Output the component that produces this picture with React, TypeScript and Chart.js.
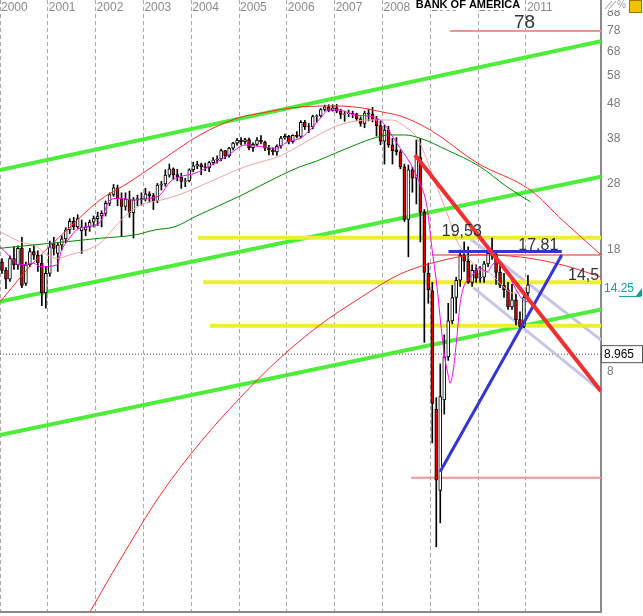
import React, { useEffect, useRef } from 'react';
import { Chart, registerables } from 'chart.js';

Chart.register(...registerables);

// ---------- axes ----------
const firstYear = 2000;
const xMin = 2000;
const xMax = 2012.57;
const yMin = 1.5964;
const yMax = 95.94;
const yearTicks = [2000, 2001, 2002, 2003, 2004, 2005, 2006, 2007, 2008, 2009, 2010, 2011];
const priceTicks = [8, 18, 28, 38, 48, 58, 68, 78, 88];

// ---------- monthly candles Jan 2000 .. Jan 2011 ----------
const opens = [
  16.6, 15.7, 14.8, 17.0, 16.3, 18.2, 14.4, 16.3, 17.8, 17.4, 16.5, 13.5,
  15.4, 18.8, 17.6, 18.6, 19.4, 20.6, 21.8, 21.0, 20.5, 20.6, 21.0, 21.7,
  22.2, 22.6, 23.0, 24.6, 26.1, 27.3, 25.4, 24.1, 25.3, 23.1, 25.2, 25.4,
  25.3, 26.2, 25.9, 25.0, 27.8, 28.0, 29.7, 31.0, 29.8, 29.3, 28.5, 28.6,
  30.8, 31.6, 31.9, 31.4, 31.2, 32.3, 32.9, 33.1, 35.0, 33.8, 35.6, 36.8,
  37.6, 37.2, 37.7, 35.7, 36.5, 37.6, 37.1, 35.6, 35.2, 34.7, 36.1, 38.1,
  38.5, 37.2, 38.8, 38.5, 42.3, 41.1, 41.0, 44.0, 44.2, 46.1, 46.9, 45.8,
  46.6, 45.6, 44.6, 44.8, 44.9, 44.8, 43.3, 42.0, 45.0, 44.7, 43.2, 41.4,
  37.3, 40.2, 36.4, 35.2, 34.7, 31.4, 22.1, 30.8, 29.1, 33.4, 23.2, 15.4,
  13.7, 6.2, 3.6, 6.6, 8.8, 11.2, 13.1, 14.7, 17.4, 16.7, 14.5, 15.7,
  14.9, 15.0, 16.4, 17.6, 17.5, 15.5, 14.2, 13.8, 12.3, 12.9, 11.3, 10.8,
  13.5,
];
const highs = [
  17.0, 16.0, 17.3, 18.4, 18.5, 19.6, 16.6, 18.2, 18.6, 17.9, 17.4, 16.1,
  19.1, 19.6, 18.9, 19.8, 20.9, 22.2, 22.4, 22.8, 22.0, 21.6, 22.0, 22.6,
  23.2, 23.4, 25.0, 26.4, 27.9, 27.8, 26.4, 26.4, 26.7, 25.6, 26.0, 26.4,
  27.2, 26.6, 26.3, 28.1, 28.5, 30.8, 32.0, 31.2, 30.9, 30.1, 29.1, 31.0,
  32.4, 32.6, 32.2, 32.2, 32.6, 33.4, 33.8, 35.4, 35.1, 35.8, 37.0, 38.0,
  38.2, 38.0, 38.1, 36.9, 38.2, 38.7, 37.3, 36.3, 35.7, 36.4, 38.5, 39.1,
  38.8, 38.9, 39.8, 42.8, 42.9, 42.0, 44.4, 44.5, 46.4, 47.5, 47.6, 47.6,
  47.7, 46.2, 45.6, 45.9, 45.6, 45.0, 43.9, 45.6, 46.2, 46.8, 44.0, 42.6,
  41.5, 41.2, 38.0, 38.2, 35.2, 32.0, 31.8, 31.3, 37.6, 38.0, 23.6, 16.5,
  14.5, 6.7, 8.4, 10.2, 12.6, 14.2, 15.0, 18.0, 19.0, 18.4, 16.3, 16.3,
  16.1, 16.7, 17.8, 19.5, 17.8, 16.3, 15.4, 14.5, 14.3, 13.4, 11.9, 13.4,
  15.2,
];
const lows = [
  15.4, 13.9, 14.6, 15.8, 15.8, 14.0, 14.2, 16.1, 16.9, 15.6, 12.4, 12.2,
  15.1, 17.4, 15.6, 18.0, 18.9, 20.1, 20.6, 20.8, 17.6, 19.8, 20.4, 21.0,
  21.2, 21.0, 22.6, 24.2, 25.8, 24.2, 19.7, 23.5, 22.4, 19.5, 24.2, 24.3,
  25.0, 24.8, 23.6, 24.7, 26.9, 27.6, 29.3, 28.9, 28.6, 27.2, 27.5, 28.4,
  30.4, 31.0, 29.8, 30.6, 30.4, 31.8, 32.2, 32.7, 33.2, 33.5, 35.2, 36.3,
  36.4, 36.6, 35.2, 34.8, 36.1, 36.6, 35.0, 34.0, 34.0, 33.9, 35.6, 37.8,
  36.6, 36.8, 38.1, 38.1, 40.3, 39.5, 40.5, 42.3, 43.8, 45.6, 45.4, 45.6,
  45.1, 43.4, 42.6, 43.9, 43.6, 42.8, 41.2, 40.8, 42.7, 42.4, 38.6, 36.4,
  32.0, 35.8, 32.0, 34.0, 31.0, 21.8, 17.2, 26.5, 24.5, 19.0, 9.7, 12.6,
  4.95, 2.47, 2.9, 6.0, 8.6, 11.0, 11.8, 14.1, 15.6, 14.4, 14.1, 14.5,
  14.5, 14.5, 16.1, 16.9, 14.3, 14.0, 13.1, 12.1, 12.1, 10.9, 10.7, 10.7,
  13.2,
];
const closes = [
  15.7, 14.8, 17.0, 16.3, 18.2, 14.2, 16.3, 17.8, 17.4, 16.5, 13.5, 15.4,
  18.4, 18.2, 18.6, 19.4, 20.6, 21.8, 21.0, 22.2, 21.0, 21.0, 21.7, 22.2,
  22.6, 23.0, 24.6, 26.1, 27.3, 25.4, 24.1, 25.3, 23.1, 25.2, 25.4, 25.3,
  26.2, 25.9, 25.0, 27.8, 28.0, 29.7, 31.0, 29.8, 29.3, 28.5, 28.6, 30.8,
  31.6, 31.9, 31.4, 31.2, 32.3, 32.9, 33.1, 35.0, 33.8, 35.6, 36.8, 37.6,
  37.2, 37.7, 35.7, 36.5, 37.6, 37.1, 35.6, 35.2, 34.7, 36.1, 38.1, 38.5,
  37.2, 38.8, 38.5, 42.3, 41.1, 41.0, 44.0, 44.2, 46.1, 46.9, 45.8, 46.6,
  45.6, 44.6, 44.8, 44.9, 44.8, 43.3, 42.0, 45.0, 44.7, 43.2, 41.4, 37.3,
  40.2, 36.4, 35.0, 34.7, 31.4, 22.1, 30.8, 29.1, 33.4, 23.2, 15.5, 13.8,
  6.45, 3.86, 6.75, 8.8, 11.2, 13.1, 14.7, 17.4, 16.7, 14.5, 15.7, 14.9,
  15.0, 16.4, 17.6, 17.5, 15.5, 14.2, 13.8, 12.3, 12.9, 11.3, 10.8, 13.1,
  14.25,
];

// ---------- indicator curves [year, price] ----------
const magentaMA: [number, number][] = [
  [2000.0, 18.41], [2000.21, 17.22], [2000.42, 16.29], [2000.7, 16.47], [2000.84, 16.1],
  [2001.19, 16.29], [2001.29, 18.01], [2001.4, 19.03], [2001.6, 20.59], [2001.81, 21.04],
  [2002.09, 21.64], [2002.3, 25.16], [2002.51, 25.45], [2002.78, 25.16], [2003.14, 25.45],
  [2003.35, 26.02], [2003.56, 28.44], [2003.77, 29.41], [2004.08, 30.09], [2004.43, 31.81],
  [2004.78, 34.01], [2005.13, 36.37], [2005.47, 35.96], [2005.75, 35.57], [2006.03, 37.18],
  [2006.28, 38.03], [2006.45, 39.75], [2006.73, 43.96], [2006.87, 45.97], [2007.08, 45.97],
  [2007.43, 44.44], [2007.78, 43.96], [2007.99, 42.49], [2008.19, 38.88], [2008.37, 35.57],
  [2008.54, 32.89], [2008.75, 28.77], [2008.93, 24.06], [2009.03, 18.41], [2009.14, 14.08],
  [2009.24, 10.31], [2009.31, 8.62], [2009.38, 7.71], [2009.41, 7.38], [2009.48, 8.06],
  [2009.55, 9.86], [2009.62, 12.46], [2009.69, 13.96], [2009.83, 14.93], [2010.04, 15.93],
  [2010.19, 15.54], [2010.31, 16.39], [2010.42, 16.61], [2010.52, 15.96], [2010.67, 14.93],
  [2010.82, 13.59], [2010.94, 12.88], [2011.05, 12.71],
];
const salmonMA: [number, number][] = [
  [2000.0, 20.35], [2000.42, 19.03], [2000.77, 18.41], [2000.98, 17.42], [2001.19, 17.03],
  [2001.46, 17.42], [2001.81, 18.01], [2002.09, 18.83], [2002.41, 21.04], [2002.68, 23.02],
  [2003.03, 24.61], [2003.38, 25.16], [2003.73, 26.02], [2004.08, 27.21], [2004.71, 29.74],
  [2005.13, 31.45], [2005.47, 32.51], [2005.82, 33.62], [2006.17, 35.57], [2006.59, 38.44],
  [2007.01, 41.11], [2007.36, 42.49], [2007.78, 42.98], [2008.19, 42.98], [2008.47, 41.11],
  [2008.75, 37.6], [2009.03, 30.09], [2009.35, 23.02], [2009.55, 19.25], [2009.83, 16.84],
  [2010.04, 15.75], [2010.25, 15.4], [2010.53, 14.08], [2010.74, 13.48], [2011.02, 14.08],
];
const greenMA: [number, number][] = [
  [2000.0, 18.21], [2001.05, 18.83], [2002.09, 19.47], [2002.82, 19.91], [2003.24, 20.59],
  [2003.66, 21.04], [2004.08, 22.5], [2005.02, 25.84], [2005.89, 29.74], [2006.28, 31.45],
  [2006.59, 32.51], [2007.01, 34.39], [2007.43, 36.37], [2007.85, 38.18], [2008.16, 38.88],
  [2008.47, 38.88], [2008.79, 38.03], [2009.35, 35.16], [2010.04, 31.45], [2010.6, 27.5],
  [2011.09, 24.87],
];
const upperArc: [number, number][] = [
  [2000.0, 12.71], [2000.69, 16.51], [2001.4, 20.59], [2002.09, 25.16], [2002.68, 28.19],
  [2003.39, 32.89], [2004.18, 38.88], [2004.98, 43.56], [2005.48, 45.05], [2006.28, 46.89],
  [2007.07, 47.2], [2007.57, 46.58], [2007.99, 45.35], [2008.37, 44.16], [2009.0, 40.2],
  [2009.98, 32.24], [2011.09, 26.9], [2011.76, 22.0], [2012.57, 17.42],
];
const lowerArc: [number, number][] = [
  [2001.88, 1.596], [2002.51, 2.26], [2003.35, 3.49], [2004.18, 4.95], [2005.02, 6.69],
  [2005.86, 8.74], [2006.69, 10.9], [2007.53, 13.06], [2008.37, 15.33], [2009.21, 16.73],
  [2009.98, 17.42], [2010.88, 17.18], [2011.76, 16.29], [2012.57, 15.03],
];

// ---------- drawn trend lines [year, price] ----------
const greenChannelTop: [number, number][] = [[2000, 30.75], [2012.57, 72.8]];
const greenChannelMid: [number, number][] = [[2000, 12.74], [2012.57, 29.4]];
const greenChannelLow: [number, number][] = [[2000, 5.22], [2012.57, 12.1]];
const redDownTrend: [number, number][] = [[2008.68, 34.0], [2012.57, 7.0]];
const lavenderUpper: [number, number][] = [[2009.83, 19.45], [2012.57, 9.86]];
const lavenderLower: [number, number][] = [[2009.9, 14.0], [2012.57, 7.01]];
const blueUpTrend: [number, number][] = [[2009.205, 4.08], [2011.75, 17.4]];
const blueLevel: [number, number][] = [[2009.38, 17.81], [2011.75, 17.81]];
const yellowLevels = [19.53, 14.5, 10.85];
const yellowStarts = [2004.14, 2004.25, 2004.39];
const pinkLevels = [78, 17.4, 3.92];
const pinkStarts = [2009.41, 2009.03, 2008.6];
const crosshairValue = 8.965;
const lastPrice = 14.25;

const levelLabelText = ['78', '19,53', '17,81', '14,5'];
const levelLabelYear = [2010.75, 2009.24, 2010.84, 2011.88];
const levelLabelValue = [78, 19.53, 17.81, 14.5];
const levelLabelSize = [19, 16, 16, 16];
const chartTitle = 'BANK OF AMERICA';

const FONT = '"Liberation Sans", Arial, Helvetica, sans-serif';

const overlayPlugin = {
  id: 'overlay',
  afterDraw(chart: any) {
    const { ctx, chartArea, scales } = chart;
    const xs = scales.x;
    const ys = scales.y;
    ctx.save();
    ctx.beginPath();
    ctx.rect(chartArea.left, chartArea.top, chartArea.right - chartArea.left, chartArea.bottom - chartArea.top);
    ctx.clip();
    // year labels
    ctx.font = '12px ' + FONT;
    ctx.fillStyle = '#8c8c8c';
    ctx.textAlign = 'left';
    ctx.textBaseline = 'alphabetic';
    yearTicks.forEach((yr) => ctx.fillText(String(yr), xs.getPixelForValue(yr) + 1, 11));
    // title
    ctx.fillStyle = '#ffffff';
    ctx.fillRect(416, 0, 104, 10);
    ctx.font = 'bold 11px ' + FONT;
    ctx.fillStyle = '#000000';
    ctx.textAlign = 'center';
    ctx.fillText(chartTitle, 468, 8);
    // level labels
    ctx.textAlign = 'left';
    ctx.fillStyle = '#333333';
    levelLabelText.forEach((t, i) => {
      ctx.font = levelLabelSize[i] + 'px ' + FONT;
      const px = xs.getPixelForValue(levelLabelYear[i]);
      const py = ys.getPixelForValue(levelLabelValue[i]) - (i === 0 ? 3 : 2);
      ctx.fillText(t, px, py);
    });
    ctx.restore();

    // axis extras
    ctx.save();
    const right = chartArea.right;
    const lp = ys.getPixelForValue(lastPrice) + 4;
    ctx.font = '12px ' + FONT;
    ctx.fillStyle = '#0aa0a0';
    ctx.textAlign = 'left';
    ctx.textBaseline = 'middle';
    ctx.fillText(String(lastPrice), right + 3, lp);
    ctx.strokeStyle = '#0aa0a0';
    ctx.lineWidth = 1;
    ctx.beginPath();
    ctx.moveTo(right + 18, lp + 7.5);
    ctx.lineTo(right + 40, lp + 7.5);
    ctx.stroke();
    ctx.beginPath();
    ctx.moveTo(right + 35, lp + 7);
    ctx.lineTo(right + 41, lp + 7);
    ctx.lineTo(right + 41, lp - 1);
    ctx.closePath();
    ctx.fill();

    const cp = ys.getPixelForValue(crosshairValue);
    ctx.fillStyle = '#ffffff';
    ctx.fillRect(right, cp - 9, 42, 18);
    ctx.strokeStyle = '#555555';
    ctx.strokeRect(right + 0.5, cp - 8.5, 41, 17);
    ctx.fillStyle = '#000000';
    ctx.fillText(String(crosshairValue), right + 3, cp + 1);

    // top-right tool icons
    ctx.fillStyle = '#ffffff';
    ctx.fillRect(right + 2, 0, 40, 10);
    ctx.strokeStyle = '#9a9a9a';
    ctx.beginPath();
    ctx.moveTo(right + 4, 9); ctx.lineTo(right + 11, 1);
    ctx.moveTo(right + 8, 9); ctx.lineTo(right + 15, 1);
    ctx.stroke();
    ctx.font = '10px ' + FONT;
    ctx.fillStyle = '#9a9a9a';
    ctx.fillText('%', right + 16, 5);
    ctx.fillStyle = '#f2c200';
    ctx.fillRect(right + 28, 0, 13, 13);
    ctx.strokeStyle = '#a07800';
    ctx.strokeRect(right + 28.5, 0.5, 12, 12);
    ctx.restore();
  },
};

export default function App() {
  const ref = useRef<HTMLCanvasElement>(null);
  useEffect(() => {
    document.body.style.margin = '0';
    const canvas = ref.current;
    if (!canvas) return;
    const toXY = (pts: [number, number][]) => pts.map(([x, y]) => ({ x, y }));
    const monthX = closes.map((_, i) => firstYear + (i + 0.5) / 12);
    const bodyColors = closes.map((c, i) => (c < opens[i] ? '#e00000' : '#ffffff'));
    const line = (pts: [number, number][], color: string, width: number, order: number, extra: any = {}) => ({
      type: 'line',
      data: toXY(pts),
      borderColor: color,
      backgroundColor: color,
      borderWidth: width,
      pointRadius: 0,
      fill: false,
      order,
      ...extra,
    });
    const smooth = { cubicInterpolationMode: 'monotone' };
    const datasets: any[] = [];
    yellowLevels.forEach((v, i) =>
      datasets.push(line([[yellowStarts[i], v], [xMax, v]], '#eeee30', 4, 20)));
    datasets.push(line(greenChannelTop, '#4cee3a', 4, 20));
    datasets.push(line(greenChannelMid, '#4cee3a', 4, 20));
    datasets.push(line(greenChannelLow, '#4cee3a', 4, 20));
    pinkLevels.forEach((v, i) =>
      datasets.push(line([[pinkStarts[i], v], [xMax, v]], '#f39494', 2, 20)));
    datasets.push(line(lavenderUpper, '#c6c6e6', 3, 20));
    datasets.push(line(lavenderLower, '#c6c6e6', 3, 20));
    datasets.push(line([[xMin, crosshairValue], [xMax, crosshairValue]], '#444444', 1, 20, { borderDash: [1, 2] }));

    datasets.push({
      type: 'bar',
      data: monthX.map((x, i) => ({ x, y: [lows[i], highs[i]] })),
      backgroundColor: '#000000',
      grouped: false,
      maxBarThickness: 1,
      barPercentage: 1,
      categoryPercentage: 1,
      order: 11,
    });
    datasets.push({
      type: 'bar',
      data: monthX.map((x, i) => ({ x, y: [opens[i], closes[i]] })),
      backgroundColor: bodyColors,
      borderColor: '#000000',
      borderWidth: 1,
      borderSkipped: false,
      grouped: false,
      maxBarThickness: 3,
      barPercentage: 1,
      categoryPercentage: 1,
      order: 10,
    });

    datasets.push(line(greenMA, '#008a00', 1, 5, smooth));
    datasets.push(line(salmonMA, '#f4a0a0', 1, 5, smooth));
    datasets.push(line(upperArc, '#ff2a2a', 1, 5, smooth));
    datasets.push(line(lowerArc, '#ff2a2a', 1, 5, smooth));
    datasets.push(line(magentaMA, '#ff00ff', 1, 4, smooth));
    datasets.push(line(redDownTrend, '#f03030', 4, 1));
    datasets.push(line(blueLevel, '#3434dc', 3, 1));
    datasets.push(line(blueUpTrend, '#3434dc', 3, 1));

    const chart = new Chart(canvas, {
      type: 'bar',
      data: { datasets },
      options: {
        responsive: false,
        animation: false,
        events: [],
        layout: { padding: { left: 0, top: 0, right: 0, bottom: 4 } },
        plugins: { legend: { display: false }, tooltip: { enabled: false } },
        scales: {
          x: {
            type: 'linear',
            min: xMin,
            max: xMax,
            offset: false,
            position: 'bottom',
            afterBuildTicks: (s: any) => { s.ticks = yearTicks.map((v) => ({ value: v })); },
            afterFit: (s: any) => { s.height = 0; s.paddingLeft = 0; s.paddingRight = 0; },
            grid: { display: true, color: '#a8a8a8', lineWidth: 1, drawTicks: false, offset: false },
            border: { display: true, color: '#8a8a8a', width: 2, dash: [4, 3] },
            ticks: { display: false },
          },
          y: {
            type: 'logarithmic',
            position: 'right',
            min: yMin,
            max: yMax,
            bounds: 'data',
            afterBuildTicks: (s: any) => { s.ticks = priceTicks.map((v) => ({ value: v })); },
            afterFit: (s: any) => { s.width = 42; s.paddingTop = 0; s.paddingBottom = 0; },
            grid: { display: false, drawTicks: false },
            border: { display: true, color: '#8a8a8a', width: 2 },
            ticks: {
              autoSkip: false,
              padding: 6,
              color: '#7a7a7a',
              font: { family: FONT, size: 12 },
              callback: (v: any) => String(v),
            },
          },
        },
      } as any,
      plugins: [overlayPlugin],
    } as any);
    return () => chart.destroy();
  }, []);
  return (
    <div style={{ width: 643, height: 616 }}>
      <canvas ref={ref} width={643} height={616} style={{ display: 'block' }} />
    </div>
  );
}
